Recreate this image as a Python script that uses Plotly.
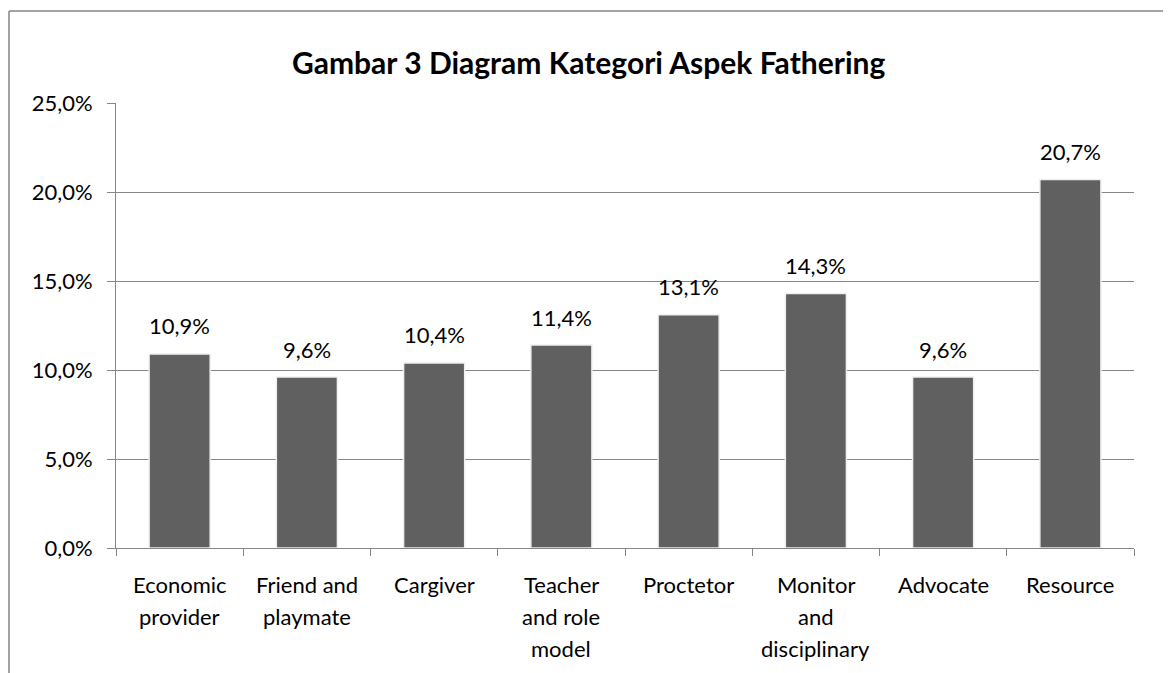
import plotly.graph_objects as go

categories = ["Economic provider", "Friend and playmate", "Cargiver", "Teacher and role model",
              "Proctetor", "Monitor and disciplinary", "Advocate", "Resource"]
label_lines = [["Economic", "provider"], ["Friend and", "playmate"], ["Cargiver"],
               ["Teacher", "and role", "model"], ["Proctetor"], ["Monitor", "and", "disciplinary"],
               ["Advocate"], ["Resource"]]
values = [10.9, 9.6, 10.4, 11.4, 13.1, 14.3, 9.6, 20.7]
y_ticks = [0, 5, 10, 15, 20, 25]
title = "Gambar 3 Diagram Kategori Aspek Fathering"

FONT = "Lato"
GRAY = "#868686"
# page has an 8px body margin; figure sized to fit the window
W, H = 1163, 665
L, R, T, B = 108, 37, 95, 125
pw, ph = W - L - R, H - T - B

def fmt(v):
    return f"{v:.1f}%".replace(".", ",")

fig = go.Figure(go.Bar(
    x=categories, y=values,
    marker=dict(color="#606060", line=dict(color="#f0f0f0", width=1.5)),
    width=0.48, hoverinfo="skip",
))

ann = []
for c, v in zip(categories, values):
    ann.append(dict(x=c, y=v, xref="x", yref="y", text=fmt(v), showarrow=False,
                    yanchor="middle", yshift=28, font=dict(family=FONT, size=22, color="#000")))
for c, lines in zip(categories, label_lines):
    for i, t in enumerate(lines):
        ann.append(dict(x=c, y=0, xref="x", yref="y", text=t, showarrow=False,
                        yanchor="middle", yshift=-(36 + 32 * i),
                        font=dict(family=FONT, size=22, color="#000")))
ann.append(dict(x=(580 - L) / pw, y=(H - 54 - B) / ph, xref="paper", yref="paper",
                text="<b>" + title + "</b>", showarrow=False, xanchor="center", yanchor="middle",
                font=dict(family=FONT, size=30, color="#000")))

# outer chart frame
fx0, fx1 = (1 - L) / pw, (1156 - L) / pw
fy1, fy0 = (H - B - 3) / ph, (H - B - 700) / ph
frame = dict(color=GRAY, width=1.5)
shapes = [
    dict(type="line", xref="paper", yref="paper", x0=fx0, x1=fx1, y0=fy1, y1=fy1, line=frame),
    dict(type="line", xref="paper", yref="paper", x0=fx0, x1=fx0, y0=fy0, y1=fy1, line=frame),
    dict(type="line", xref="paper", yref="paper", x0=fx1, x1=fx1, y0=fy0, y1=fy1, line=frame),
]

fig.update_layout(
    width=W, height=H, margin=dict(l=L, r=R, t=T, b=B),
    paper_bgcolor="white", plot_bgcolor="white",
    showlegend=False, annotations=ann, shapes=shapes,
)
fig.update_xaxes(showticklabels=False, ticks="outside", tickson="boundaries", ticklen=7,
                 tickcolor=GRAY, showline=True, linecolor=GRAY, linewidth=1, showgrid=False)
fig.update_yaxes(range=[0, 25], tickvals=y_ticks, ticktext=[fmt(v) for v in y_ticks],
                 ticks="outside", ticklen=8, tickcolor=GRAY, showline=True, linecolor=GRAY,
                 gridcolor=GRAY, gridwidth=1, zeroline=False, ticklabelstandoff=10,
                 tickfont=dict(family=FONT, size=22, color="#000"))

fig.write_html("out.html")
